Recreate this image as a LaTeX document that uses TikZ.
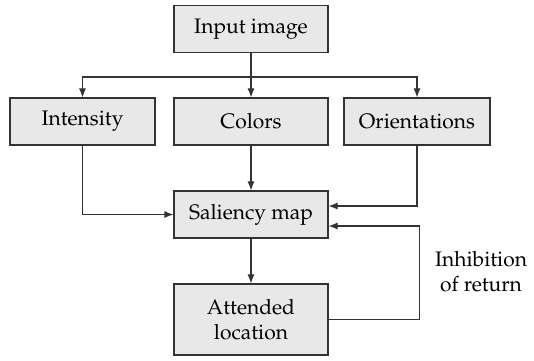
\documentclass[tikz,border=0pt]{standalone}
\usepackage[T1]{fontenc}
\usepackage{mathpazo}
\usepackage{tikz}
\usetikzlibrary{arrows.meta, calc, positioning}
\definecolor{boxgray}{gray}{0.91}
\definecolor{edgegray}{gray}{0.2}

\tikzset{
  stage/.style={draw=edgegray, fill=boxgray, minimum width=77pt, minimum height=23.5pt,
    inner sep=0pt, align=center, font=\fontsize{10.5}{12.5}\selectfont},
  note/.style={align=center, font=\fontsize{10.5}{12.5}\selectfont},
}

\begin{document}
\begin{tikzpicture}[x=0.5pt, y=-0.5pt, line width=0.55pt, draw=edgegray,
    >={Latex[length=4.5pt, width=3.5pt]}]
  \useasboundingbox (0,0) rectangle (534,360);

  \node[stage] (input) at (251, 29) {Input image};
  \node[stage, minimum width=72.5pt] (intensity) at (82.5, 121.5) {Intensity};
  \node[stage] (colors) at (251, 121.5) {Colors};
  \node[stage, minimum width=73pt] (orient) at (417, 121.5) {Orientations};
  \node[stage] (saliency) at (251, 214.5) {Saliency map};
  \node[stage, minimum height=35.5pt] (attended) at (251, 319.5) {Attended\\location};
  \node[note] (inhib) at (481, 272) {Inhibition\\of return};

  \coordinate (split) at (251, 77);

  \draw (input) -- (split);
  \draw[->] (split) -| (intensity);
  \draw[->] (split) -- (colors);
  \draw[->] (split) -| (orient);

  \draw[->] (intensity) |- (saliency);
  \draw[->] (colors) -- (saliency);
  \draw[->] (orient.south) |- ([yshift=4.25pt]saliency.east);
  \draw[->] (saliency) -- (attended);

  \draw[->] (attended.east) -- ++(91, 0) |- ([yshift=-5.75pt]saliency.east);
\end{tikzpicture}
\end{document}
